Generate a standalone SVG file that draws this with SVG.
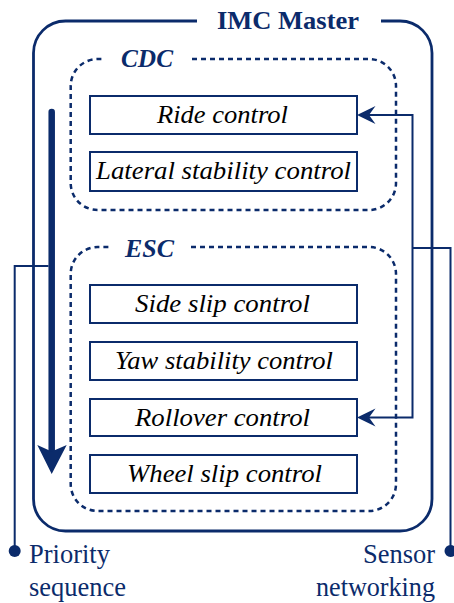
<svg xmlns="http://www.w3.org/2000/svg" width="454" height="603" viewBox="0 0 454 603">
  <style>
    text { font-family: "Liberation Serif", "Times New Roman", "DejaVu Serif", serif; }
    .frame { fill: none; stroke: #0b2b6b; stroke-width: 2.8; }
    .group { fill: none; stroke: #0b2b6b; stroke-width: 2.5; stroke-dasharray: 5 4; }
    .block rect { fill: #ffffff; stroke: #0b2b6b; stroke-width: 2; }
    .block text { font-style: italic; font-size: 26px; fill: #000000; }
    .title { font-weight: bold; fill: #0b2b6b; }
    .caption { font-size: 27px; fill: #0b2b6b; }
    .wire { fill: none; stroke: #0b2b6b; stroke-width: 2; }
    .dot { fill: #0b2b6b; }
  </style>
  <defs>
    <marker id="head" markerUnits="userSpaceOnUse" viewBox="-19 -10 20 20" refX="-12" refY="0" markerWidth="20" markerHeight="20" orient="auto-start-reverse">
      <path d="M0,0 L-18.5,-9 L-12,0 L-18.5,9 Z" fill="#0b2b6b"/>
    </marker>
  </defs>

  <!-- IMC Master outer frame, open at the top for its title -->
  <g id="imc-master">
    <path class="frame" d="M197,21 H65.5 A32,32 0 0 0 33.5,53 V499 A32,32 0 0 0 65.5,531 H400 A32,32 0 0 0 432,499 V53 A32,32 0 0 0 400,21 H381"/>
    <text class="title" x="217" y="29" font-size="26" textLength="142" lengthAdjust="spacingAndGlyphs">IMC Master</text>
  </g>

  <!-- CDC group -->
  <g id="cdc">
    <path class="group" d="M192,59 H369 A27,27 0 0 1 396,86 V183 A27,27 0 0 1 369,210 H97.7 A27,27 0 0 1 70.7,183 V86 A27,27 0 0 1 97.7,59 H102"/>
    <text class="title" x="121" y="67" font-size="25" font-style="italic" textLength="52" lengthAdjust="spacingAndGlyphs">CDC</text>
  </g>

  <!-- ESC group -->
  <g id="esc">
    <path class="group" d="M191,247 H369 A27,27 0 0 1 396,274 V484 A27,27 0 0 1 369,511 H97.7 A27,27 0 0 1 70.7,484 V274 A27,27 0 0 1 97.7,247 H110"/>
    <text class="title" x="125" y="257" font-size="25" font-style="italic" textLength="49" lengthAdjust="spacingAndGlyphs">ESC</text>
  </g>

  <!-- Control blocks -->
  <g id="ride-control" class="block">
    <rect x="90" y="96" width="267" height="38"/>
    <text x="157" y="123" textLength="131" lengthAdjust="spacingAndGlyphs">Ride control</text>
  </g>
  <g id="lateral-stability-control" class="block">
    <rect x="90" y="152" width="267" height="39"/>
    <text x="96" y="179" textLength="255" lengthAdjust="spacingAndGlyphs">Lateral stability control</text>
  </g>
  <g id="side-slip-control" class="block">
    <rect x="90" y="285" width="267" height="38"/>
    <text x="135" y="312" textLength="175" lengthAdjust="spacingAndGlyphs">Side slip control</text>
  </g>
  <g id="yaw-stability-control" class="block">
    <rect x="90" y="342" width="267" height="38"/>
    <text x="115" y="369" textLength="218" lengthAdjust="spacingAndGlyphs">Yaw stability control</text>
  </g>
  <g id="rollover-control" class="block">
    <rect x="90" y="399" width="267" height="37"/>
    <text x="135" y="426" textLength="175" lengthAdjust="spacingAndGlyphs">Rollover control</text>
  </g>
  <g id="wheel-slip-control" class="block">
    <rect x="90" y="455" width="267" height="38"/>
    <text x="127" y="482" textLength="195" lengthAdjust="spacingAndGlyphs">Wheel slip control</text>
  </g>

  <!-- Captions -->
  <g id="priority-sequence">
    <circle class="dot" cx="14.7" cy="551" r="6"/>
    <text class="caption" x="29" y="563" textLength="81" lengthAdjust="spacingAndGlyphs">Priority</text>
    <text class="caption" x="29" y="596" textLength="97" lengthAdjust="spacingAndGlyphs">sequence</text>
  </g>
  <g id="sensor-networking">
    <circle class="dot" cx="450.5" cy="551" r="6"/>
    <text class="caption" x="363" y="563" textLength="72" lengthAdjust="spacingAndGlyphs">Sensor</text>
    <text class="caption" x="316" y="596" textLength="119" lengthAdjust="spacingAndGlyphs">networking</text>
  </g>

  <!-- Connectors -->
  <g id="connectors">
    <!-- priority direction, top to bottom -->
    <line x1="51.7" y1="112" x2="51.7" y2="452" stroke="#0b2b6b" stroke-width="6.5" stroke-linecap="round"/>
    <path d="M37.3,445 L51.7,451.5 L66.7,445 L51.7,474 Z" fill="#0b2b6b"/>
    <path class="wire" d="M48.5,266 H14.7 V551"/>
    <!-- sensor feed into ride and rollover control -->
    <path class="wire" d="M369,115 H412.5 V417.5 H369" marker-start="url(#head)" marker-end="url(#head)"/>
    <path class="wire" d="M412.5,248 H450.5 V551"/>
  </g>
</svg>
